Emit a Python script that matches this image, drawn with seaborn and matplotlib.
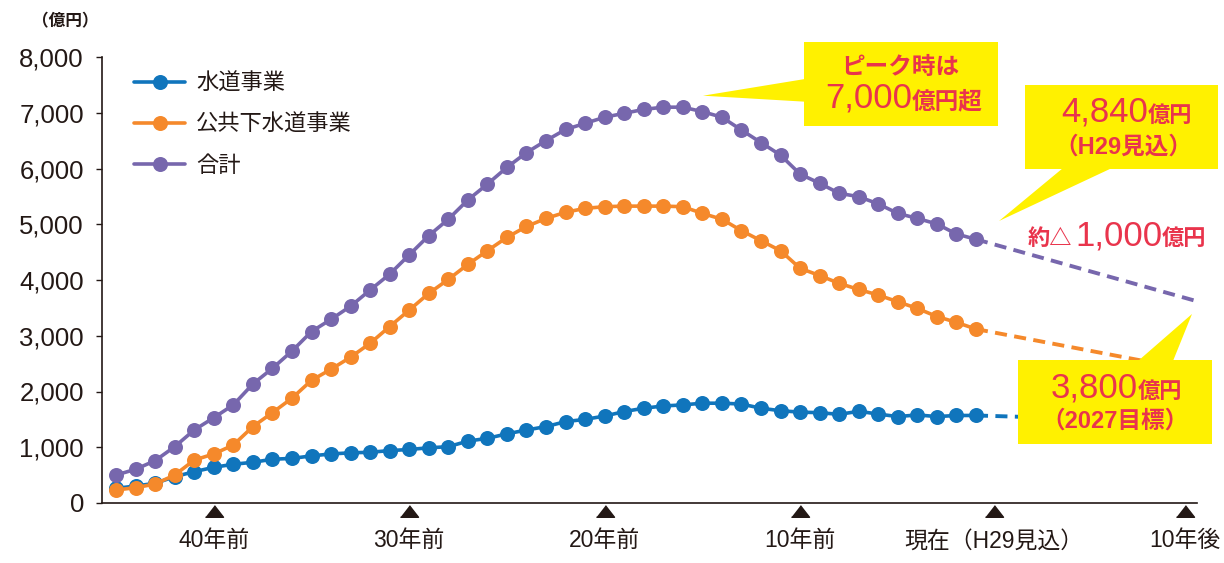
import numpy as np
import pandas as pd
import matplotlib
matplotlib.use("Agg")
import matplotlib.pyplot as plt
import seaborn as sns
from matplotlib.patches import Polygon, Rectangle
from matplotlib.lines import Line2D

# ---------------- data ----------------
years = list(range(-45, 0))
water = [263, 305, 353, 472, 562, 640, 695, 730, 785, 800,
         845, 880, 900, 910, 940, 960, 990, 1010, 1110, 1160,
         1240, 1310, 1370, 1460, 1500, 1560, 1640, 1700, 1740, 1760,
         1790, 1790, 1775, 1700, 1655, 1630, 1620, 1590, 1645, 1595,
         1550, 1580, 1550, 1570, 1570]
sewer = [233, 275, 340, 502, 770, 880, 1040, 1370, 1620, 1880,
         2200, 2400, 2615, 2865, 3165, 3460, 3760, 4010, 4280, 4525,
         4765, 4960, 5105, 5215, 5285, 5315, 5325, 5325, 5325, 5315,
         5195, 5090, 4885, 4705, 4525, 4210, 4080, 3940, 3830, 3730,
         3610, 3490, 3345, 3240, 3120]
total = [502, 605, 760, 1010, 1310, 1530, 1760, 2135, 2415, 2725,
         3075, 3295, 3530, 3820, 4105, 4450, 4795, 5090, 5435, 5720,
         6020, 6285, 6500, 6700, 6810, 6920, 6990, 7060, 7100, 7100,
         7020, 6920, 6690, 6465, 6240, 5900, 5735, 5555, 5495, 5365,
         5195, 5105, 5005, 4825, 4730]
series_names = ["水道事業", "公共下水道事業", "合計"]
proj_x = [-1, 10.4]
proj_end = [1450, 2360, 3610]

xtick_pos = [-40, -30, -20, -10, -0.1, 9.7]
xtick_labels = ["40年前", "30年前", "20年前", "10年前", "現在（H29見込）", "10年後"]
yticks = [0, 1000, 2000, 3000, 4000, 5000, 6000, 7000, 8000]

colors = ["#1075BC", "#F5892B", "#7767AD"]
ink = "#231815"
red = "#E9344C"
yellow = "#FFF100"

# ---------------- style ----------------
sns.set_style("ticks")
plt.rcParams["font.family"] = ["Liberation Sans", "Noto Sans CJK JP", "DejaVu Sans"]

W, H = 1224, 563
fig = plt.figure(figsize=(W / 100, H / 100), dpi=100)
ax = fig.add_axes([102 / W, 1 - 503 / H, (1197 - 102) / W, (503 - 57) / H])

df = pd.DataFrame({
    "year": years * 3,
    "value": water + sewer + total,
    "series": [series_names[0]] * len(years) + [series_names[1]] * len(years) + [series_names[2]] * len(years),
})

# projections (dashed)
series_vals = [water, sewer, total]
for vals, end, c in zip(series_vals, proj_end, colors):
    sns.lineplot(x=proj_x, y=[vals[-1], end], color=c, linewidth=2.8,
                 linestyle=(0, (3.1, 1.9)), ax=ax, clip_on=False, zorder=1)

sns.lineplot(data=df, x="year", y="value", hue="series", hue_order=series_names,
             palette=colors, marker="o", markersize=10.8, markeredgewidth=0,
             linewidth=2.6, legend=False, ax=ax, zorder=3)

ax.set_xlim(-45.72, 10.31)
ax.set_ylim(0, 8000)
ax.set_xlabel("")
ax.set_ylabel("")
ax.set_yticks(yticks)
ax.set_yticklabels([f"{v:,}" for v in yticks], fontsize=18.5, color=ink)
ax.tick_params(axis="y", length=4, width=1.0, color=ink, pad=9)
ax.set_xticks(xtick_pos)
ax.set_xticklabels(xtick_labels, fontsize=16.5, color=ink)
ax.tick_params(axis="x", length=0, pad=19)
for s in ["top", "right"]:
    ax.spines[s].set_visible(False)
for s in ["left", "bottom"]:
    ax.spines[s].set_color(ink)
    ax.spines[s].set_linewidth(1.2)

# triangles under the ticks
tri = [(-1.4, -0.9), (1.4, -0.9), (0, 0.9)]
ax.plot(xtick_pos, [-0.019] * len(xtick_pos), linestyle="none", marker=tri,
        markersize=13, color=ink, transform=ax.get_xaxis_transform(), clip_on=False)

# legend
handles = [Line2D([0], [0], color=c, linewidth=2.6, marker="o", markersize=10.8,
                  markeredgewidth=0) for c in colors]
ax.legend(handles, series_names, loc="upper left",
          bbox_to_anchor=(134 / W, 1 - 74 / H), bbox_transform=fig.transFigure,
          frameon=False, fontsize=16, handlelength=2.3, handletextpad=0.5,
          labelspacing=0.9, borderpad=0, borderaxespad=0, labelcolor=ink)

# unit label
fig.text(32 / W, 1 - 21 / H, "（億円）", fontsize=12, fontweight="bold",
         color=ink, ha="left", va="center")

# ---------------- overlay callouts (pixel space) ----------------
ov = fig.add_axes([0, 0, 1, 1], zorder=10)
ov.set_xlim(0, W)
ov.set_ylim(H, 0)
ov.axis("off")
ov.patch.set_alpha(0)

def box(x0, y0, x1, y1, pointer):
    ov.add_patch(Rectangle((x0, y0), x1 - x0, y1 - y0, facecolor=yellow, edgecolor="none"))
    ov.add_patch(Polygon(pointer, closed=True, facecolor=yellow, edgecolor="none"))

box(804, 42, 998, 126, [(805, 79), (703, 95.7), (805, 101.7)])
ov.text(900, 67, "ピーク時は", fontsize=17, color=red, ha="center", va="center", fontweight="bold")
ov.text(912, 108, "7,000", fontsize=25, color=red, ha="right", va="baseline")
ov.text(912, 108, "億円超", fontsize=17, color=red, ha="left", va="baseline", fontweight="bold")

box(1025, 85, 1218, 169, [(1063, 168), (999, 221), (1112, 168)])
ov.text(1148, 122, "4,840", fontsize=25, color=red, ha="right", va="baseline")
ov.text(1148, 122, "億円", fontsize=16, color=red, ha="left", va="baseline", fontweight="bold")
ov.text(1123, 147, "（H29見込）", fontsize=17, color=red, ha="center", va="center", fontweight="bold")

ov.text(1072, 245, "約△", fontsize=16, color=red, ha="right", va="baseline", fontweight="bold")
ov.text(1162, 245, "1,000", fontsize=25, color=red, ha="right", va="baseline")
ov.text(1162, 245, "億円", fontsize=16, color=red, ha="left", va="baseline", fontweight="bold")

box(1018, 360, 1212, 444, [(1138, 361), (1192, 314), (1173, 361)])
ov.text(1138, 398, "3,800", fontsize=25, color=red, ha="right", va="baseline")
ov.text(1138, 398, "億円", fontsize=16, color=red, ha="left", va="baseline", fontweight="bold")
ov.text(1115, 421, "（2027目標）", fontsize=17, color=red, ha="center", va="center", fontweight="bold")

fig.savefig("out.png", dpi=100)
